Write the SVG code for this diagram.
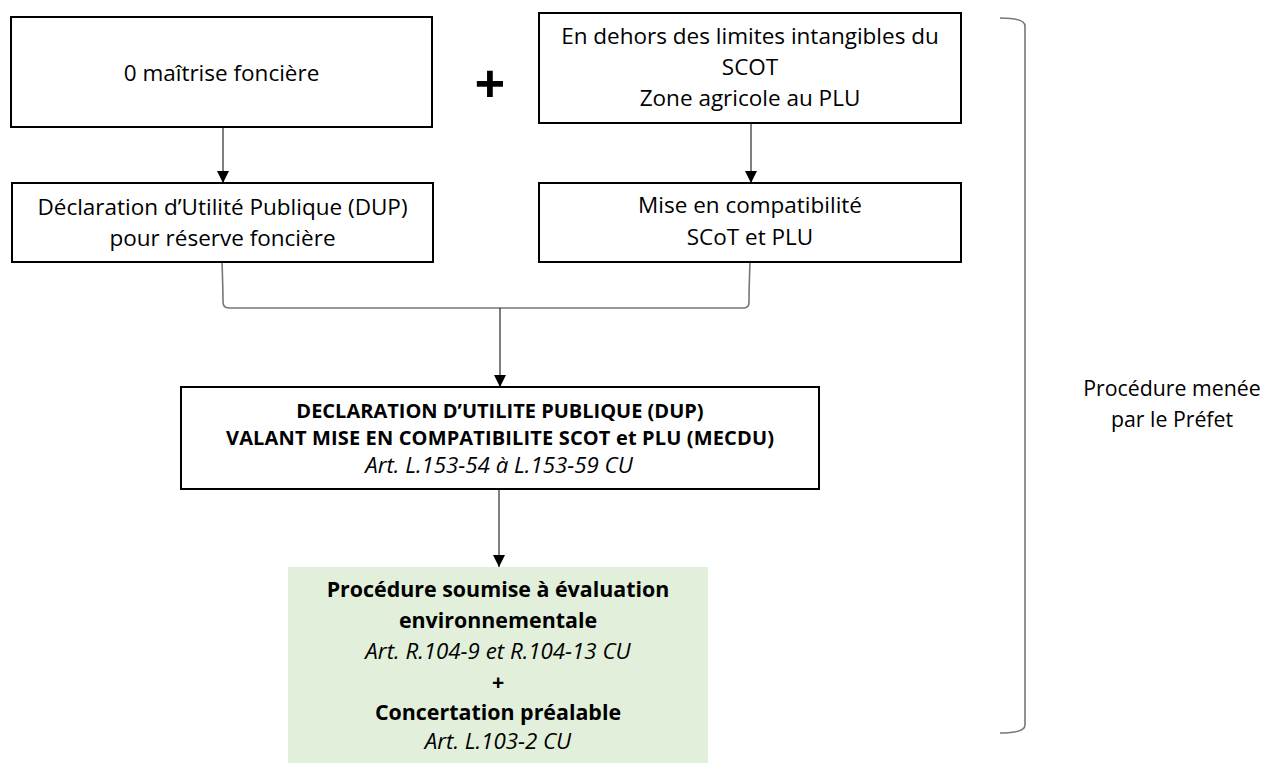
<svg xmlns="http://www.w3.org/2000/svg" width="1266" height="763" viewBox="0 0 1266 763">
<defs>
<style>
.box{fill:#fff;stroke:#000;stroke-width:2}
.green{fill:#e2efda;stroke:none}
.t{font-family:"Open Sans","Noto Sans",sans-serif;font-size:22.5px;fill:#000;text-anchor:middle}
.side{font-family:"Open Sans","Noto Sans",sans-serif;font-size:21.3px;fill:#000;text-anchor:middle}
.b{font-family:"Open Sans","Noto Sans",sans-serif;font-size:20px;font-weight:bold;fill:#000;text-anchor:middle}
.gb{font-family:"Open Sans","Noto Sans",sans-serif;font-size:21.4px;font-weight:bold;fill:#000;text-anchor:middle}
.i{font-family:"Open Sans","Noto Sans",sans-serif;font-size:22.3px;font-style:italic;fill:#000;text-anchor:middle}
.conn{fill:none;stroke:#000;stroke-width:1}
.gray{fill:none;stroke:#767676;stroke-width:1.6}
</style>
<marker id="ah" markerUnits="userSpaceOnUse" markerWidth="13" markerHeight="12" refX="12" refY="6" orient="auto">
<path d="M0,0 L12,6 L0,12 z" fill="#000"/>
</marker>
</defs>
<rect width="1266" height="763" fill="#fff"/>
<g id="connectors">
<line class="conn" x1="223" y1="127" x2="223" y2="183" marker-end="url(#ah)"/>
<line class="conn" x1="751" y1="123" x2="751" y2="183" marker-end="url(#ah)"/>
<path class="gray" d="M222,262 Q223,290 223,302 Q223,308 229,308 H744 Q749,308 749,302 Q749,290 750,262"/>
<line class="conn" x1="500" y1="308" x2="500" y2="387" marker-end="url(#ah)"/>
<line class="conn" x1="499" y1="489" x2="499" y2="567" marker-end="url(#ah)"/>
</g>
<g id="n1">
<rect class="box" x="11" y="17" width="421" height="110"/>
<text class="t" x="221.5" y="81">0 maîtrise foncière</text>
</g>
<g id="plus">
<text x="490" y="103" font-family="Open Sans, sans-serif" font-size="54" font-weight="bold" text-anchor="middle" fill="#000">+</text>
</g>
<g id="n2">
<rect class="box" x="539" y="13" width="422" height="110"/>
<text class="t" x="750" y="44">En dehors des limites intangibles du</text>
<text class="t" x="750" y="75">SCOT</text>
<text class="t" x="750" y="106">Zone agricole au PLU</text>
</g>
<g id="n3">
<rect class="box" x="12" y="183" width="421" height="79"/>
<text class="t" x="222.5" y="215">Déclaration d’Utilité Publique (DUP)</text>
<text class="t" x="222.5" y="246">pour réserve foncière</text>
</g>
<g id="n4">
<rect class="box" x="539" y="183" width="422" height="79"/>
<text class="t" x="750" y="213">Mise en compatibilité</text>
<text class="t" x="750" y="245">SCoT et PLU</text>
</g>
<g id="n5">
<rect class="box" x="181" y="387" width="638" height="102"/>
<text class="b" x="500" y="418">DECLARATION D’UTILITE PUBLIQUE (DUP)</text>
<text class="b" x="500" y="445" textLength="548" lengthAdjust="spacing">VALANT MISE EN COMPATIBILITE SCOT et PLU (MECDU)</text>
<text class="i" x="499" y="473">Art. L.153-54 à L.153-59 CU</text>
</g>
<g id="n6">
<rect class="green" x="288" y="567" width="420" height="196"/>
<text class="gb" x="498" y="597">Procédure soumise à évaluation</text>
<text class="gb" x="498" y="628">environnementale</text>
<text class="i" x="498" y="659">Art. R.104-9 et R.104-13 CU</text>
<text class="gb" x="498" y="690">+</text>
<text class="gb" x="498" y="720">Concertation préalable</text>
<text class="i" x="498" y="749">Art. L.103-2 CU</text>
</g>
<g id="bracket">
<path class="gray" d="M1000,18 Q1025,18 1025,26 V725 Q1025,733 1000,733"/>
<text class="side" x="1172" y="396">Procédure menée</text>
<text class="side" x="1172" y="427">par le Préfet</text>
</g>
</svg>
